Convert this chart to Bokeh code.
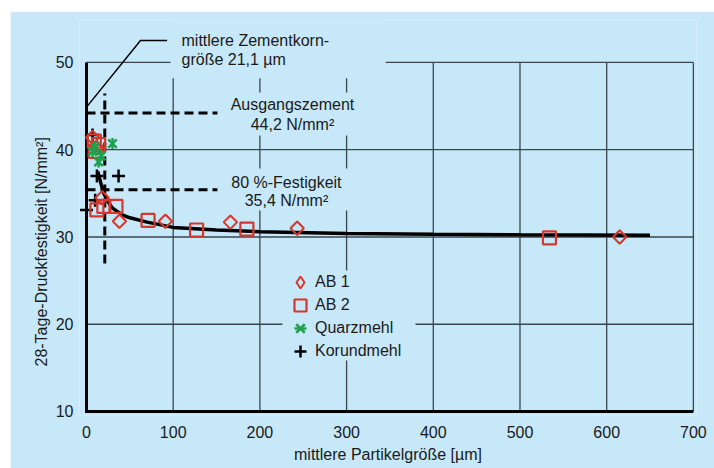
import math
from bokeh.plotting import figure
from bokeh.models import (Range1d, Label, BoxAnnotation, Legend, LegendItem, FixedTicker,
                          Spacer, Title)
from bokeh.layouts import column, row
from bokeh.embed import file_html
from bokeh.resources import INLINE

# ---------------- data ----------------
X_TICKS = [0, 100, 200, 300, 400, 500, 600, 700]
Y_TICKS = [10, 20, 30, 40, 50]

ab1_x = [7, 12, 18, 38, 91, 166, 243, 615]
ab1_y = [41.4, 40.2, 34.5, 31.8, 31.8, 31.7, 31.0, 30.0]

ab2_x = [9, 14, 10, 12, 20, 34, 71, 127, 185, 534]
ab2_y = [41.0, 40.6, 39.8, 33.1, 33.5, 33.5, 31.9, 30.8, 30.9, 29.9]

quarz_x = [7, 10, 14, 17, 30]
quarz_y = [39.8, 40.3, 38.6, 39.3, 40.7]

korund_x = [0, 10, 12, 37, 7]
korund_y = [33.1, 34.2, 37.0, 37.0, 41.7]

curve_x = [13, 17, 20, 25, 30, 40, 50, 70, 100, 150, 200, 300, 400, 500, 650]
curve_y = [37.5, 36.0, 35.0, 34.0, 33.3, 32.6, 32.2, 31.7, 31.1, 30.8, 30.6, 30.4, 30.3, 30.25, 30.2]

ZEMENT_KORN = 21.1      # µm
AUSGANG = 44.2          # N/mm²
FESTIG_80 = 35.4        # N/mm²

# ---------------- style ----------------
BG = "#c6e8f8"
RED = "#d6372c"
GREEN = "#1fa04c"
GRID = "#3b464d"
TXT = "#1a1a1a"
FONT = "Liberation Sans"
FS = "16px"

p = figure(width=704, height=457,
           x_range=Range1d(-8.07, 703.6), y_range=Range1d(9.54, 54.81),
           output_backend="svg", toolbar_location=None,
           background_fill_color=BG, border_fill_color=BG,
           outline_line_color=None,
           min_border_left=69, min_border_right=18,
           min_border_top=9, min_border_bottom=53)
# range used only to give the legend's diamond symbol a renderer that stays off the frame
p.extra_y_ranges = {"legend_only": Range1d(1000, 1001)}

p.xgrid.visible = False
p.ygrid.visible = False

for ax, ticks in ((p.xaxis[0], X_TICKS), (p.yaxis[0], Y_TICKS)):
    ax.ticker = FixedTicker(ticks=ticks)
    ax.axis_line_color = None
    ax.major_tick_line_color = None
    ax.minor_tick_line_color = None
    ax.major_tick_out = 0
    ax.major_tick_in = 0
    ax.minor_tick_out = 0
    ax.minor_tick_in = 0
    ax.major_label_text_font = FONT
    ax.major_label_text_font_size = FS
    ax.major_label_text_color = TXT
    ax.axis_label_text_font = FONT
    ax.axis_label_text_font_size = FS
    ax.axis_label_text_font_style = "normal"
    ax.axis_label_text_color = TXT
p.xaxis[0].major_label_standoff = 10
p.yaxis[0].major_label_standoff = 6
p.xaxis[0].axis_label = "mittlere Partikelgröße [µm]"
p.xaxis[0].axis_label_standoff = 5

# y axis title (placed as a side title so it can sit where the original has it)
p.add_layout(Title(text="28-Tage-Druckfestigkeit [N/mm²]", align="left", offset=49,
                   text_font=FONT, text_font_size=FS, text_font_style="normal",
                   text_color=TXT, standoff=6), "left")

# grid lines
p.segment(x0=X_TICKS[1:], y0=[Y_TICKS[0]] * (len(X_TICKS) - 1),
          x1=X_TICKS[1:], y1=[Y_TICKS[-1]] * (len(X_TICKS) - 1),
          line_color=GRID, line_width=1.3)
p.segment(x0=[X_TICKS[0]] * (len(Y_TICKS) - 1), y0=Y_TICKS[1:],
          x1=[X_TICKS[-1]] * (len(Y_TICKS) - 1), y1=Y_TICKS[1:],
          line_color=GRID, line_width=1.3)

# masks behind texts / legend
for l, r, b, t in ((97, 345, 48.2, 54.81), (152, 351, 41.63, 46.56),
                   (152, 351, 33.04, 37.85), (226, 379.5, 15.85, 26.16)):
    p.add_layout(BoxAnnotation(left=l, right=r, bottom=b, top=t,
                               fill_color=BG, fill_alpha=1.0,
                               line_alpha=0))

# axes (thick)
p.line([X_TICKS[0], X_TICKS[0], X_TICKS[-1]],
       [Y_TICKS[-1], Y_TICKS[0], Y_TICKS[0]],
       line_color="black", line_width=3, line_join="miter")

# dashed reference lines
p.line([0, 151], [AUSGANG, AUSGANG], line_color="black", line_width=3, line_dash="9 5")
p.line([0, 151], [FESTIG_80, FESTIG_80], line_color="black", line_width=3, line_dash="9 5")
p.line([ZEMENT_KORN, ZEMENT_KORN], [26.96, 46.45], line_color="black", line_width=3, line_dash="9 5")

# leader line
p.line([0, 62.3, 93], [44.88, 52.52, 52.52], line_color="black", line_width=1.5)

# fitted curve
p.line(curve_x, curve_y, line_color="black", line_width=3.5)

# series
r_kor = p.scatter(korund_x, korund_y, marker="cross", size=13,
                  line_color="black", line_width=2.5)
r_ab1 = p.scatter(ab1_x, ab1_y, marker="square", angle=math.pi / 4, size=9.5,
                  fill_color=None, line_color=RED, line_width=2)
r_ab2 = p.scatter(ab2_x, ab2_y, marker="square", size=13,
                  fill_color=None, line_color=RED, line_width=2.2)
r_q1 = p.scatter(quarz_x, quarz_y, marker="x", size=12,
                 line_color=GREEN, line_width=2.5)
r_q2 = p.scatter(quarz_x, quarz_y, marker="dash", angle=math.pi / 2, size=11,
                 line_color=GREEN, line_width=2.5)
# legend symbol for AB 1 (the legend ignores marker angles, so use a diamond marker)
r_ab1_leg = p.scatter(ab1_x, ab1_y, y_range_name="legend_only", marker="diamond",
                      size=13, fill_color=None, line_color=RED, line_width=2)

entries = [("AB 1", [r_ab1_leg]), ("AB 2", [r_ab2]),
           ("Quarzmehl", [r_q1, r_q2]), ("Korundmehl", [r_kor])]
for i, (name, rends) in enumerate(entries):
    lg = Legend(items=[LegendItem(label=name, renderers=rends)],
                location=(206, 118 - 23 * i), glyph_width=30, glyph_height=30,
                spacing=0, label_standoff=0, padding=0, margin=0,
                background_fill_alpha=0, border_line_alpha=0,
                label_text_font=FONT, label_text_font_size=FS,
                label_text_color=TXT, label_height=30)
    p.add_layout(lg)

def lab(x, y, text, align="left"):
    p.add_layout(Label(x=x, y=y, text=text, text_font=FONT, text_font_size=FS,
                       text_color=TXT, text_align=align, text_baseline="middle"))

lab(109.6, 52.52, "mittlere Zementkorn-")
lab(109.6, 50.34, "größe 21,1 µm")
lab(237.6, 45.19, "Ausgangszement", "center")
lab(237.6, 42.89, "44,2 N/mm²", "center")
lab(230.6, 36.28, "80 %-Festigkeit", "center")
lab(230.6, 34.18, "35,4 N/mm²", "center")

layout = column(Spacer(height=11, width=714), row(Spacer(width=10, height=457), p))
open("out.html", "w").write(file_html(layout, INLINE))
